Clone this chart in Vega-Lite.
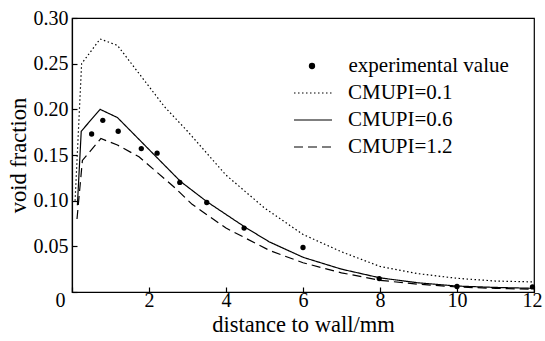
{
  "$schema": "https://vega.github.io/schema/vega-lite/v6.json",
  "width": 462,
  "height": 274,
  "autosize": {"type": "none"},
  "padding": {"left": 72, "top": 18, "right": 11, "bottom": 49},
  "background": "white",
  "config": {
    "font": "Liberation Serif",
    "view": {"stroke": "black", "strokeWidth": 1.2},
    "axis": {
      "grid": false,
      "domainColor": "black",
      "domainWidth": 1.2,
      "tickColor": "black",
      "tickWidth": 1.2,
      "tickSize": -5,
      "labelColor": "black",
      "titleColor": "black",
      "labelFont": "Liberation Serif",
      "titleFont": "Liberation Serif",
      "labelFontSize": 20,
      "titleFontSize": 22.5,
      "titleFontWeight": "normal"
    },
    "legend": {
      "labelFont": "Liberation Serif",
      "labelFontSize": 21,
      "labelColor": "black",
      "labelLimit": 400,
      "padding": 0,
      "rowPadding": 0,
      "clipHeight": 27
    }
  },
  "layer": [
    {
      "data": {
        "values": [
          {"series": "CMUPI=0.1", "x": 0.08, "y": 0.10},
          {"series": "CMUPI=0.1", "x": 0.25, "y": 0.25},
          {"series": "CMUPI=0.1", "x": 0.73, "y": 0.277},
          {"series": "CMUPI=0.1", "x": 1.18, "y": 0.270},
          {"series": "CMUPI=0.1", "x": 2.4, "y": 0.203},
          {"series": "CMUPI=0.1", "x": 3, "y": 0.176},
          {"series": "CMUPI=0.1", "x": 4, "y": 0.128},
          {"series": "CMUPI=0.1", "x": 5, "y": 0.092},
          {"series": "CMUPI=0.1", "x": 6, "y": 0.063},
          {"series": "CMUPI=0.1", "x": 7, "y": 0.044},
          {"series": "CMUPI=0.1", "x": 8, "y": 0.028},
          {"series": "CMUPI=0.1", "x": 9, "y": 0.020},
          {"series": "CMUPI=0.1", "x": 10, "y": 0.015},
          {"series": "CMUPI=0.1", "x": 11, "y": 0.012},
          {"series": "CMUPI=0.1", "x": 12, "y": 0.011},
          {"series": "CMUPI=0.6", "x": 0.14, "y": 0.095},
          {"series": "CMUPI=0.6", "x": 0.24, "y": 0.176},
          {"series": "CMUPI=0.6", "x": 0.73, "y": 0.200},
          {"series": "CMUPI=0.6", "x": 1.18, "y": 0.191},
          {"series": "CMUPI=0.6", "x": 2.0, "y": 0.156},
          {"series": "CMUPI=0.6", "x": 2.82, "y": 0.121},
          {"series": "CMUPI=0.6", "x": 3.51, "y": 0.0987},
          {"series": "CMUPI=0.6", "x": 4.51, "y": 0.0706},
          {"series": "CMUPI=0.6", "x": 5.12, "y": 0.055},
          {"series": "CMUPI=0.6", "x": 6, "y": 0.038},
          {"series": "CMUPI=0.6", "x": 7, "y": 0.025},
          {"series": "CMUPI=0.6", "x": 8, "y": 0.0155},
          {"series": "CMUPI=0.6", "x": 9, "y": 0.010},
          {"series": "CMUPI=0.6", "x": 10, "y": 0.0065},
          {"series": "CMUPI=0.6", "x": 11, "y": 0.005},
          {"series": "CMUPI=0.6", "x": 12, "y": 0.004},
          {"series": "CMUPI=1.2", "x": 0.13, "y": 0.08},
          {"series": "CMUPI=1.2", "x": 0.27, "y": 0.144},
          {"series": "CMUPI=1.2", "x": 0.75, "y": 0.168},
          {"series": "CMUPI=1.2", "x": 1.18, "y": 0.161},
          {"series": "CMUPI=1.2", "x": 1.74, "y": 0.148},
          {"series": "CMUPI=1.2", "x": 2.65, "y": 0.115},
          {"series": "CMUPI=1.2", "x": 3.12, "y": 0.096},
          {"series": "CMUPI=1.2", "x": 4, "y": 0.070},
          {"series": "CMUPI=1.2", "x": 5.12, "y": 0.0457},
          {"series": "CMUPI=1.2", "x": 6, "y": 0.032},
          {"series": "CMUPI=1.2", "x": 7, "y": 0.021},
          {"series": "CMUPI=1.2", "x": 8, "y": 0.0128},
          {"series": "CMUPI=1.2", "x": 9, "y": 0.0085},
          {"series": "CMUPI=1.2", "x": 10, "y": 0.0055},
          {"series": "CMUPI=1.2", "x": 11, "y": 0.004},
          {"series": "CMUPI=1.2", "x": 12, "y": 0.003}
        ]
      },
      "mark": {"type": "line", "color": "black", "strokeWidth": 1.2},
      "encoding": {
        "x": {
          "field": "x", "type": "quantitative",
          "scale": {"domain": [0, 12], "nice": false, "zero": false},
          "axis": {
            "values": [0, 2, 4, 6, 8, 10, 12],
            "title": "distance to wall/mm",
            "labelPadding": 3,
            "titlePadding": 3,
            "labelOffset": {"condition": [{"test": "datum.value == 0", "value": -17}, {"test": "datum.value == 12", "value": 8}], "value": 0}
          }
        },
        "y": {
          "field": "y", "type": "quantitative",
          "scale": {"domain": [0, 0.3], "nice": false},
          "axis": {
            "values": [0, 0.05, 0.1, 0.15, 0.2, 0.25, 0.3],
            "labelExpr": "datum.value == 0 ? '' : format(datum.value, '.2f')",
            "title": "void fraction",
            "labelPadding": 9,
            "titlePadding": 3
          }
        },
        "strokeDash": {
          "field": "series", "type": "nominal",
          "scale": {"domain": ["CMUPI=0.1", "CMUPI=0.6", "CMUPI=1.2"], "range": [[1.5, 2.5], [1, 0], [9, 5]]},
          "legend": {
            "title": null,
            "orient": "none",
            "legendX": 221,
            "legendY": 61.5,
            "symbolType": "stroke",
            "symbolSize": 1444,
            "symbolStrokeWidth": 1.2,
            "symbolStrokeColor": "black",
            "labelOffset": 15
          }
        }
      }
    },
    {
      "data": {
        "values": [
          {"kind": "experimental value", "x": 0.51, "y": 0.173},
          {"kind": "experimental value", "x": 0.80, "y": 0.188},
          {"kind": "experimental value", "x": 1.20, "y": 0.176},
          {"kind": "experimental value", "x": 1.80, "y": 0.157},
          {"kind": "experimental value", "x": 2.21, "y": 0.152},
          {"kind": "experimental value", "x": 2.80, "y": 0.120},
          {"kind": "experimental value", "x": 3.50, "y": 0.098},
          {"kind": "experimental value", "x": 4.47, "y": 0.070},
          {"kind": "experimental value", "x": 6.00, "y": 0.0487},
          {"kind": "experimental value", "x": 7.98, "y": 0.0147},
          {"kind": "experimental value", "x": 10.0, "y": 0.006},
          {"kind": "experimental value", "x": 11.96, "y": 0.0055}
        ]
      },
      "mark": {"type": "point", "filled": true, "color": "black", "size": 28, "opacity": 1},
      "encoding": {
        "x": {"field": "x", "type": "quantitative"},
        "y": {"field": "y", "type": "quantitative"},
        "shape": {
          "field": "kind", "type": "nominal",
          "scale": {"domain": ["experimental value"], "range": ["circle"]},
          "legend": {
            "title": null,
            "orient": "none",
            "legendX": 229.5,
            "legendY": 34.5,
            "symbolSize": 40,
            "symbolFillColor": "black",
            "symbolStrokeColor": "black",
            "symbolOpacity": 1,
            "labelOffset": 26
          }
        }
      }
    }
  ]
}
